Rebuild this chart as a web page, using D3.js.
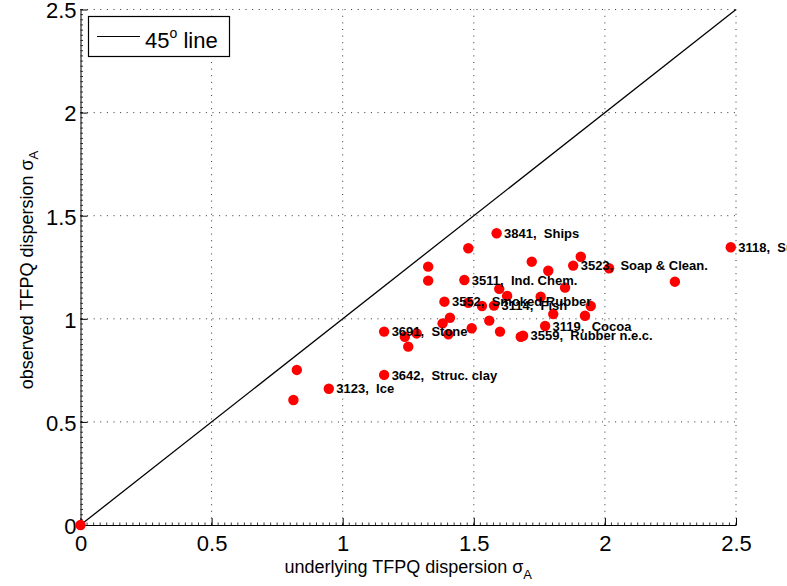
<!DOCTYPE html>
<html>
<head>
<meta charset="utf-8">
<script src="https://cdn.jsdelivr.net/npm/d3@7"></script>
<style>
  html, body { margin: 0; padding: 0; background: #fff; }
  svg { display: block; }
  text { font-family: "Liberation Sans", Arial, Helvetica, sans-serif; }
</style>
</head>
<body>
<svg id="chart" width="787" height="586"></svg>
<script>
// Industry-level dispersion: underlying (x) vs observed (y) TFPQ sigma
const underlying = [0, 0.812, 0.825, 0.947, 1.158, 1.158, 1.237, 1.250, 1.282, 1.326, 1.326,
  1.381, 1.388, 1.403, 1.409, 1.464, 1.479, 1.479, 1.492, 1.531, 1.559, 1.577, 1.587, 1.597,
  1.600, 1.627, 1.679, 1.688, 1.721, 1.755, 1.772, 1.784, 1.803, 1.848, 1.879, 1.908, 1.924,
  1.946, 2.016, 2.267, 2.480];
const observed = [0, 0.606, 0.752, 0.661, 0.728, 0.938, 0.913, 0.865, 0.929, 1.253, 1.185,
  0.978, 1.083, 0.925, 1.005, 1.188, 1.342, 1.078, 0.954, 1.062, 0.991, 1.064, 1.415, 1.145,
  0.938, 1.111, 0.913, 0.918, 1.277, 1.107, 0.965, 1.233, 1.023, 1.151, 1.258, 1.301, 1.015,
  1.062, 1.245, 1.180, 1.347];

// Labelled industries (index into the arrays above)
const labelIndex = [3, 4, 5, 12, 15, 21, 22, 27, 30, 34, 40];
const labelText = ["3123,  Ice", "3642,  Struc. clay", "3691,  Stone", "3552,  Smoked Rubber",
  "3511,  Ind. Chem.", "3114,  Fish", "3841,  Ships", "3559,  Rubber n.e.c.", "3119,  Cocoa",
  "3523,  Soap & Clean.", "3118,  Sugar"];

const tickValues = [0, 0.5, 1, 1.5, 2, 2.5];
const tickLabels = ["0", "0.5", "1", "1.5", "2", "2.5"];
const diagonal = [0, 2.5];

const svg = d3.select("#chart");
const plotL = 80.5, plotR = 736, plotT = 9.5, plotB = 525;

const x = d3.scaleLinear().domain([0, 2.5]).range([plotL, plotR]);
const y = d3.scaleLinear().domain([0, 2.5]).range([plotB, plotT]);

svg.append("rect").attr("width", 787).attr("height", 586).attr("fill", "#fff");

// dotted grid
const grid = svg.append("g").attr("stroke", "#333").attr("stroke-width", 1)
  .attr("stroke-dasharray", "1,5.6");
tickValues.slice(1).forEach(v => {
  grid.append("line").attr("x1", x(v)).attr("x2", x(v)).attr("y1", plotB).attr("y2", plotT);
  grid.append("line").attr("y1", y(v)).attr("y2", y(v)).attr("x1", plotL).attr("x2", plotR);
});

// axes
const xAxis = d3.axisBottom(x).tickValues(tickValues).tickFormat((d, i) => tickLabels[i])
  .tickSizeInner(-7).tickSizeOuter(0).tickPadding(12);
const yAxis = d3.axisLeft(y).tickValues(tickValues).tickFormat((d, i) => tickLabels[i])
  .tickSizeInner(-7).tickSizeOuter(0).tickPadding(12);

const gx = svg.append("g").attr("transform", `translate(0,${plotB})`).call(xAxis);
const gy = svg.append("g").attr("transform", `translate(${plotL},0)`).call(yAxis);
[gx, gy].forEach(g => {
  g.select(".domain").attr("stroke", "#000").attr("stroke-width", 1);
  g.selectAll(".tick line").attr("stroke", "#000");
  g.selectAll(".tick text").attr("font-size", 22).attr("fill", "#000")
    .attr("font-family", "Liberation Sans, Arial, sans-serif");
});
gx.selectAll(".tick text").attr("dy", "0.72em").attr("y", 10);
gy.selectAll(".tick text").attr("dy", "0.38em").attr("x", -4);

// minor ticks
const minor = d3.range(0, 2.5001, 0.025);
const gm = svg.append("g").attr("stroke", "#000").attr("stroke-width", 0.8);
minor.forEach(v => {
  gm.append("line").attr("x1", x(v)).attr("x2", x(v)).attr("y1", plotB).attr("y2", plotB - 2.5);
  gm.append("line").attr("y1", y(v)).attr("y2", y(v)).attr("x1", plotL).attr("x2", plotL + 2.5);
});

// 45 degree line
svg.append("line")
  .attr("x1", x(diagonal[0])).attr("y1", y(diagonal[0]))
  .attr("x2", x(diagonal[1])).attr("y2", y(diagonal[1]))
  .attr("stroke", "#000").attr("stroke-width", 1.3);

// points
svg.append("g").selectAll("circle").data(underlying).join("circle")
  .attr("cx", d => x(d)).attr("cy", (d, i) => y(observed[i]))
  .attr("r", 5.2).attr("fill", "#ff0000");

// labels
svg.append("g").selectAll("text").data(labelIndex).join("text")
  .attr("x", d => x(underlying[d]) + 7.5)
  .attr("y", d => y(observed[d]) + 4.7)
  .attr("font-size", 13).attr("font-weight", "bold").attr("fill", "#000")
  .style("white-space", "pre")
  .text((d, i) => labelText[i]);

// legend
const lg = svg.append("g");
lg.append("rect").attr("x", 88.5).attr("y", 16.5).attr("width", 141).attr("height", 40)
  .attr("fill", "#fff").attr("stroke", "#000").attr("stroke-width", 1.2);
lg.append("line").attr("x1", 97).attr("x2", 140).attr("y1", 36.5).attr("y2", 36.5)
  .attr("stroke", "#000").attr("stroke-width", 1);
const lt = lg.append("text").attr("x", 145).attr("y", 47.5).attr("font-size", 22).attr("fill", "#000");
lt.append("tspan").text("45");
lt.append("tspan").attr("font-size", 14).attr("dy", -10).text("o");
lt.append("tspan").attr("dy", 10).style("white-space", "pre").text(" line");

// axis titles
const xt = svg.append("text").attr("x", (plotL + plotR) / 2).attr("y", 573)
  .attr("text-anchor", "middle").attr("font-size", 18).attr("fill", "#000");
xt.append("tspan").text("underlying TFPQ dispersion σ");
xt.append("tspan").attr("font-size", 13).attr("dy", 6).text("A");

const yt = svg.append("text").attr("transform", "translate(33,270) rotate(-90)")
  .attr("text-anchor", "middle").attr("font-size", 18).attr("fill", "#000");
yt.append("tspan").text("observed TFPQ dispersion σ");
yt.append("tspan").attr("font-size", 13).attr("dy", 5).text("A");
</script>
</body>
</html>
